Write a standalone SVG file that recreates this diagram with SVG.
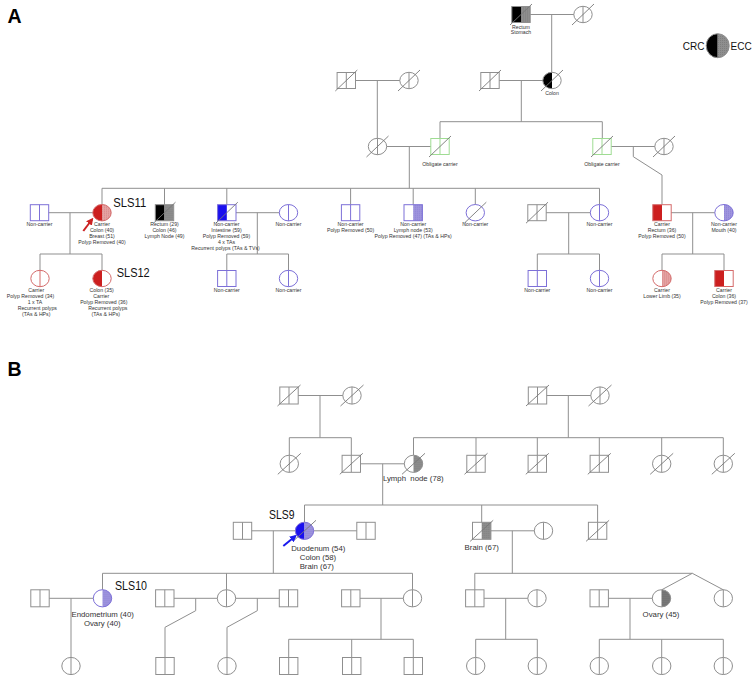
<svg xmlns="http://www.w3.org/2000/svg" width="756" height="675" viewBox="0 0 756 675">
<style>
.ln{fill:none;stroke:#8f8f8f;stroke-width:1}
.g{fill:none;stroke:#8f8f8f;stroke-width:1}
.p{fill:none;stroke:#7d70d8;stroke-width:1}
.r{fill:none;stroke:#d46a6a;stroke-width:1}
.n{fill:none;stroke:#9fdc93;stroke-width:1}
.s{fill:none;stroke:#777;stroke-width:0.9}
.t{font-family:"Liberation Sans",Arial,sans-serif;font-size:5.2px;fill:#333;text-anchor:middle}
.tb{font-family:"Liberation Sans",Arial,sans-serif;font-size:7.8px;fill:#333;text-anchor:middle}
.sls{font-family:"Liberation Sans",Arial,sans-serif;font-size:13px;fill:#111}
.pl{font-family:"Liberation Sans",Arial,sans-serif;font-size:19.5px;font-weight:bold;fill:#000}
.lg{font-family:"Liberation Sans",Arial,sans-serif;font-size:10px;fill:#111}
</style>
<defs>
<pattern id="hG" width="2" height="2" patternUnits="userSpaceOnUse"><rect width="2" height="2" fill="#8e8e8e"/><rect width="1" height="1" fill="#7e7e7e"/></pattern>
<pattern id="hGd" width="2" height="2" patternUnits="userSpaceOnUse"><rect width="2" height="2" fill="#7a7a7a"/><rect width="1" height="1" fill="#666"/></pattern>
<pattern id="hR" width="2" height="2" patternUnits="userSpaceOnUse"><rect width="2" height="2" fill="#e4a2a2"/><rect width="1" height="1" fill="#d88888"/></pattern>
<pattern id="hP" width="2" height="2" patternUnits="userSpaceOnUse"><rect width="2" height="2" fill="#9f95de"/><rect width="1" height="1" fill="#8b80d4"/></pattern>
<rect id="sA" x="-9.2" y="-8" width="18.4" height="16"/>
<rect id="sAL" x="-9.2" y="-8" width="9.2" height="16"/>
<rect id="sAR" x="0" y="-8" width="9.2" height="16"/>
<path id="vsA" d="M0,-8V8"/>
<ellipse id="cA" rx="9.2" ry="8.2"/>
<path id="cAL" d="M0,-8.2A9.2,8.2 0 0 0 0,8.2Z"/>
<path id="cAR" d="M0,-8.2A9.2,8.2 0 0 1 0,8.2Z"/>
<path id="vcA" d="M0,-8.2V8.2"/>
<path id="slA" d="M-11,10.5L11,-10.5"/>
<rect id="sB" x="-9.2" y="-8.5" width="18.4" height="17"/>
<rect id="sBR" x="0" y="-8.5" width="9.2" height="17"/>
<path id="vsB" d="M0,-8.5V8.5"/>
<ellipse id="cB" rx="9.2" ry="8.6"/>
<path id="cBL" d="M0,-8.6A9.2,8.6 0 0 0 0,8.6Z"/>
<path id="cBR" d="M0,-8.6A9.2,8.6 0 0 1 0,8.6Z"/>
<path id="vcB" d="M0,-8.6V8.6"/>
<path id="slB" d="M-11.5,10.5L11.5,-10.5"/>
<marker id="arR" viewBox="0 0 10 10" refX="7" refY="5" markerWidth="3.6" markerHeight="3.6" orient="auto"><path d="M0,0L10,5L0,10Z" fill="#cc2222"/></marker>
<marker id="arB" viewBox="0 0 10 10" refX="7" refY="5" markerWidth="3.6" markerHeight="3.6" orient="auto"><path d="M0,0L10,5L0,10Z" fill="#1a1aee"/></marker>
</defs>
<rect width="756" height="675" fill="#fff"/>
<text class="pl" x="7.5" y="22.5">A</text>
<text class="pl" x="7.5" y="375.5">B</text>

<g id="connectors">
<path class="ln" d="M530.2,14.5H573.8M551.7,14.5V72.3M355.5,80.5H399.8M377.3,80.5V138.3M499.2,80.5H542.8M521.3,80.5V121.7M440,121.7H602.3M440,121.7V138.5M602.3,121.7V138.5M386.7,146.5H430.8M409.3,146.5V188.3M611.2,146.5H654.8M633.3,146.5V156.7L662,175V204.7"/>
<path class="ln" d="M102,188.3H599.5M102,188.3V204.5M164.5,188.3V204.7M226.8,188.3V204.7M350.6,188.3V204.7M413.2,188.3V204.7M475.3,188.3V204.5M599.5,188.3V204.5"/>
<path class="ln" d="M48.7,212.7H92.8M70,212.7V254M40,254H102M40,254V270.3M102,254V270.3M236,212.7H279.3M257.3,212.7V254M226.8,254H288.5M226.8,254V270.5M288.5,254V270.3M546.2,212.7H590.3M568.7,212.7V254M537.3,254H599.5M537.3,254V270.5M599.5,254V270.3M671.2,212.7H714.8M692.7,212.7V254M662,254H724M662,254V270.3M724,254V270.5"/>
<path class="ln" d="M298.2,395.5H342.8M320,395.5V437.7M289.3,437.7H351.3M289.3,437.7V455.2M351.3,437.7V455.3M546.7,395.5H590.8M568.3,395.5V437.7M413.5,437.7H723.3M413.5,437.7V455.2M476,437.7V455.3M537.3,437.7V455.3M599.3,437.7V455.3M661.7,437.7V455.2M723.3,437.7V455.2"/>
<path class="ln" d="M360.5,463.8H404.3M382.7,463.8V505M304.5,505H597.6M304.5,505V522.2M481.7,505V522.3M597.6,505V522.3M251.7,530.8H295.3M313.7,530.8H356.8M273.3,530.8V573.3M490.9,530.8H534.3M512.3,530.8V573.3"/>
<path class="ln" d="M102.5,573.3H412.5M102.5,573.3V589.7M226.5,573.3V589.7M412.5,573.3V589.7M49.2,598.3H93.3M71,598.3V657.4M174,598.3H217.3M195.7,598.3V610.7L165,627.3V657.5M235.7,598.3H279.3M257.3,598.3V610.7L227,627.3V657.4M360,598.3H403.3M381,598.3V639.3M288.7,639.3H413.3M288.7,639.3V657.5M351.7,639.3V657.5M413.3,639.3V657.5"/>
<path class="ln" d="M474.8,573.3H692.3M474.8,573.3V589.8M692.3,573.3L661.7,589.8M692.3,573.3L723.3,589.8M484,598.3H527.8M505.7,598.3V639.3M475.7,639.3H537.3M475.7,639.3V657.4M537.3,639.3V657.4M608.4,598.3H652.3M630,598.3V639.3M599.3,639.3H723.3M599.3,639.3V657.4M661.7,639.3V657.4M723.3,639.3V657.4"/>
</g>

<!-- Panel A -->
<g id="A-I1">
<use href="#sAL" x="521" y="14.5" fill="#000"/><use href="#sAR" x="521" y="14.5" fill="url(#hG)"/>
<use href="#sA" x="521" y="14.5" class="g"/><use href="#slA" x="521" y="14.5" class="s"/>
<text class="t" x="521" y="28.5">Rectum</text><text class="t" x="521" y="34.3">Stomach</text>
</g>
<g id="A-I2"><use href="#cA" x="583" y="14.5" class="g"/><use href="#vcA" x="583" y="14.5" class="g"/><use href="#slA" x="583" y="14.5" class="s"/></g>
<g id="A-II1"><use href="#sA" x="346.3" y="80.5" class="g"/><use href="#vsA" x="346.3" y="80.5" class="g"/><use href="#slA" x="346.3" y="80.5" class="s"/></g>
<g id="A-II2"><use href="#cA" x="409" y="80.5" class="g"/><use href="#vcA" x="409" y="80.5" class="g"/><use href="#slA" x="409" y="80.5" class="s"/></g>
<g id="A-II3"><use href="#sA" x="490" y="80.5" class="g"/><use href="#vsA" x="490" y="80.5" class="g"/><use href="#slA" x="490" y="80.5" class="s"/></g>
<g id="A-II4"><use href="#cAL" x="552" y="80.5" fill="#000"/><use href="#cA" x="552" y="80.5" class="g"/><use href="#slA" x="552" y="80.5" class="s"/>
<text class="t" x="552" y="95">Colon</text></g>
<g id="A-III1"><use href="#cA" x="377.5" y="146.5" class="g"/><use href="#vcA" x="377.5" y="146.5" class="g"/><use href="#slA" x="377.5" y="146.5" class="s"/></g>
<g id="A-III2"><use href="#sA" x="440" y="146.5" class="n"/><use href="#vsA" x="440" y="146.5" class="n"/><use href="#slA" x="440" y="146.5" class="s"/>
<text class="t" x="440" y="166">Obligate carrier</text></g>
<g id="A-III3"><use href="#sA" x="602" y="146.5" class="n"/><use href="#vsA" x="602" y="146.5" class="n"/><use href="#slA" x="602" y="146.5" class="s"/>
<text class="t" x="602" y="166">Obligate carrier</text></g>
<g id="A-III4"><use href="#cA" x="664" y="146.5" class="g"/><use href="#vcA" x="664" y="146.5" class="g"/><use href="#slA" x="664" y="146.5" class="s"/></g>

<g id="A-IV1"><use href="#sA" x="39.5" y="212.7" class="p"/><use href="#vsA" x="39.5" y="212.7" class="p"/>
<text class="t" x="39.5" y="226">Non-carrier</text></g>
<g id="A-IV2-SLS11"><use href="#cAL" x="102" y="212.7" fill="#cc1f1f"/><use href="#cAR" x="102" y="212.7" fill="url(#hR)"/><use href="#cA" x="102" y="212.7" class="r"/>
<text class="sls" x="113.3" y="206.7" textLength="33" lengthAdjust="spacingAndGlyphs">SLS11</text>
<path d="M83.3,231L92,219.5" stroke="#cc2222" stroke-width="2" marker-end="url(#arR)"/>
<text class="t" x="102" y="226">Carrier</text><text class="t" x="102" y="232.1">Colon (40)</text><text class="t" x="102" y="238.2">Breast (51)</text><text class="t" x="102" y="244.3">Polyp Removed (40)</text></g>
<g id="A-IV3"><use href="#sAL" x="164.5" y="212.7" fill="#000"/><use href="#sAR" x="164.5" y="212.7" fill="url(#hG)"/><use href="#sA" x="164.5" y="212.7" class="g"/><use href="#slA" x="164.5" y="212.7" class="s"/>
<text class="t" x="164.5" y="226">Rectum (29)</text><text class="t" x="164.5" y="232.1">Colon (46)</text><text class="t" x="164.5" y="238.2">Lymph Node (49)</text></g>
<g id="A-IV4"><use href="#sAL" x="226.8" y="212.7" fill="#1a10ee"/><use href="#sA" x="226.8" y="212.7" class="p"/><use href="#slA" x="226.8" y="212.7" class="s"/>
<text class="t" x="226.5" y="226">Non-carrier</text><text class="t" x="226.5" y="232.1">Intestine (59)</text><text class="t" x="226.5" y="238.2">Polyp Removed (59)</text><text class="t" x="226.5" y="244.3">4 x TAs</text><text class="t" x="225.5" y="250.4">Recurrent polyps (TAs &amp; TVs)</text></g>
<g id="A-IV5"><use href="#cA" x="288.5" y="212.7" class="p"/><use href="#vcA" x="288.5" y="212.7" class="p"/>
<text class="t" x="288.5" y="226">Non-carrier</text></g>
<g id="A-IV6"><use href="#sA" x="350.6" y="212.7" class="p"/><use href="#vsA" x="350.6" y="212.7" class="p"/>
<text class="t" x="350.6" y="226">Non-carrier</text><text class="t" x="350.6" y="232.1">Polyp Removed (50)</text></g>
<g id="A-IV7"><use href="#sAR" x="413.2" y="212.7" fill="url(#hP)"/><use href="#sA" x="413.2" y="212.7" class="p"/>
<text class="t" x="413.2" y="226">Non-carrier</text><text class="t" x="413.2" y="232.1">Lymph node (53)</text><text class="t" x="413.2" y="238.2">Polyp Removed (47) (TAs &amp; HPs)</text></g>
<g id="A-IV8"><use href="#cA" x="475.3" y="212.7" class="p"/><use href="#slA" x="475.3" y="212.7" class="s"/>
<text class="t" x="475.3" y="226">Non-carrier</text></g>
<g id="A-IV9"><use href="#sA" x="537" y="212.7" class="g"/><use href="#vsA" x="537" y="212.7" class="g"/><use href="#slA" x="537" y="212.7" class="s"/></g>
<g id="A-IV10"><use href="#cA" x="599.5" y="212.7" class="p"/><use href="#vcA" x="599.5" y="212.7" class="p"/>
<text class="t" x="599.5" y="226">Non-carrier</text></g>
<g id="A-IV11"><use href="#sAL" x="662" y="212.7" fill="#cc1f1f"/><use href="#sA" x="662" y="212.7" class="r"/>
<text class="t" x="662" y="226">Carrier</text><text class="t" x="662" y="232.1">Rectum (36)</text><text class="t" x="662" y="238.2">Polyp Removed (50)</text></g>
<g id="A-IV12"><use href="#cAR" x="724" y="212.7" fill="url(#hP)"/><use href="#cA" x="724" y="212.7" class="p"/>
<text class="t" x="724" y="226">Non-carrier</text><text class="t" x="724" y="232.1">Mouth (40)</text></g>

<g id="A-V1"><use href="#cA" x="40" y="278.5" class="r"/><use href="#vcA" x="40" y="278.5" class="r"/>
<text class="t" x="36.2" y="292">Carrier</text><text class="t" x="30.5" y="298.1">Polyp Removed (34)</text><text class="t" x="35" y="304.2">1 x TA</text><text class="t" x="37.3" y="310.3">Recurrent polyps</text><text class="t" x="36.2" y="316.4">(TAs &amp; HPs)</text></g>
<g id="A-V2-SLS12"><use href="#cAL" x="102" y="278.5" fill="#cc1f1f"/><use href="#cA" x="102" y="278.5" class="r"/>
<text class="sls" x="116.7" y="277.3" textLength="33" lengthAdjust="spacingAndGlyphs">SLS12</text>
<text class="t" x="101.7" y="292">Colon (35)</text><text class="t" x="101.3" y="298.1">Carrier</text><text class="t" x="103.8" y="304.2">Polyp Removed (36)</text><text class="t" x="107.8" y="310.3">Recurrent polyps</text><text class="t" x="105.8" y="316.4">(TAs &amp; HPs)</text></g>
<g id="A-V3"><use href="#sA" x="226.8" y="278.5" class="p"/><use href="#vsA" x="226.8" y="278.5" class="p"/><text class="t" x="226.8" y="292.3">Non-carrier</text></g>
<g id="A-V4"><use href="#cA" x="288.5" y="278.5" class="p"/><use href="#vcA" x="288.5" y="278.5" class="p"/><text class="t" x="288.5" y="292.3">Non-carrier</text></g>
<g id="A-V5"><use href="#sA" x="537.3" y="278.5" class="p"/><use href="#vsA" x="537.3" y="278.5" class="p"/><text class="t" x="537.3" y="292.3">Non-carrier</text></g>
<g id="A-V6"><use href="#cA" x="599.5" y="278.5" class="p"/><use href="#vcA" x="599.5" y="278.5" class="p"/><text class="t" x="599.5" y="292.3">Non-carrier</text></g>
<g id="A-V7"><use href="#cAR" x="662" y="278.5" fill="url(#hR)"/><use href="#cA" x="662" y="278.5" class="r"/>
<text class="t" x="662" y="292">Carrier</text><text class="t" x="662" y="298.1">Lower Limb (35)</text></g>
<g id="A-V8"><use href="#sAL" x="724" y="278.5" fill="#cc1f1f"/><use href="#sA" x="724" y="278.5" class="r"/>
<text class="t" x="724" y="292">Carrier</text><text class="t" x="724" y="298.1">Colon (36)</text><text class="t" x="724" y="304.2">Polyp Removed (37)</text></g>

<g id="legend">
<path d="M717.7,33.7A11.5,12 0 0 0 717.7,57.7Z" fill="#000"/>
<path d="M717.7,33.7A11.5,12 0 0 1 717.7,57.7Z" fill="url(#hG)"/>
<ellipse cx="717.7" cy="45.7" rx="11.5" ry="12" class="g"/>
<text class="lg" x="704.5" y="50" text-anchor="end">CRC</text>
<text class="lg" x="730.5" y="50">ECC</text>
</g>

<!-- Panel B -->
<g id="B-I1"><use href="#sB" x="289" y="395.5" class="g"/><use href="#vsB" x="289" y="395.5" class="g"/><use href="#slB" x="289" y="395.5" class="s"/></g>
<g id="B-I2"><use href="#cB" x="352" y="395.5" class="g"/><use href="#vcB" x="352" y="395.5" class="g"/><use href="#slB" x="352" y="395.5" class="s"/></g>
<g id="B-I3"><use href="#sB" x="537.5" y="395.5" class="g"/><use href="#vsB" x="537.5" y="395.5" class="g"/><use href="#slB" x="537.5" y="395.5" class="s"/></g>
<g id="B-I4"><use href="#cB" x="600" y="395.5" class="g"/><use href="#vcB" x="600" y="395.5" class="g"/><use href="#slB" x="600" y="395.5" class="s"/></g>

<g id="B-II1"><use href="#cB" x="289.3" y="463.8" class="g"/><use href="#vcB" x="289.3" y="463.8" class="g"/><use href="#slB" x="289.3" y="463.8" class="s"/></g>
<g id="B-II2"><use href="#sB" x="351.3" y="463.8" class="g"/><use href="#vsB" x="351.3" y="463.8" class="g"/><use href="#slB" x="351.3" y="463.8" class="s"/></g>
<g id="B-II3"><use href="#cBR" x="413.5" y="463.8" fill="url(#hG)"/><use href="#cB" x="413.5" y="463.8" class="g"/><use href="#slB" x="413.5" y="463.8" class="s"/>
<text class="tb" x="413.3" y="480.7" xml:space="preserve">Lymph  node (78)</text></g>
<g id="B-II4"><use href="#sB" x="476" y="463.8" class="g"/><use href="#vsB" x="476" y="463.8" class="g"/><use href="#slB" x="476" y="463.8" class="s"/></g>
<g id="B-II5"><use href="#sB" x="537.3" y="463.8" class="g"/><use href="#vsB" x="537.3" y="463.8" class="g"/><use href="#slB" x="537.3" y="463.8" class="s"/></g>
<g id="B-II6"><use href="#sB" x="599.3" y="463.8" class="g"/><use href="#vsB" x="599.3" y="463.8" class="g"/><use href="#slB" x="599.3" y="463.8" class="s"/></g>
<g id="B-II7"><use href="#cB" x="661.7" y="463.8" class="g"/><use href="#vcB" x="661.7" y="463.8" class="g"/><use href="#slB" x="661.7" y="463.8" class="s"/></g>
<g id="B-II8"><use href="#cB" x="723.3" y="463.8" class="g"/><use href="#vcB" x="723.3" y="463.8" class="g"/><use href="#slB" x="723.3" y="463.8" class="s"/></g>

<g id="B-III1"><use href="#sB" x="242.5" y="530.8" class="g"/><use href="#vsB" x="242.5" y="530.8" class="g"/></g>
<g id="B-III2-SLS9"><use href="#cBL" x="304.5" y="530.8" fill="#1a10ee"/><use href="#cBR" x="304.5" y="530.8" fill="url(#hP)"/><use href="#cB" x="304.5" y="530.8" class="p"/><use href="#slB" x="304.5" y="530.8" class="s"/>
<text class="sls" x="269" y="519" textLength="25.5" lengthAdjust="spacingAndGlyphs">SLS9</text>
<path d="M283.3,546L295.2,536.2" stroke="#1a1aee" stroke-width="2" marker-end="url(#arB)"/>
<text class="tb" x="318.3" y="551">Duodenum (54)</text><text class="tb" x="318" y="560">Colon (58)</text><text class="tb" x="316.8" y="569">Brain (67)</text></g>
<g id="B-III3"><use href="#sB" x="366" y="530.8" class="g"/><use href="#vsB" x="366" y="530.8" class="g"/></g>
<g id="B-III4"><use href="#sBR" x="481.7" y="530.8" fill="url(#hG)"/><use href="#sB" x="481.7" y="530.8" class="g"/><use href="#slB" x="481.7" y="530.8" class="s"/>
<text class="tb" x="481.7" y="549.5">Brain (67)</text></g>
<g id="B-III5"><use href="#cB" x="543.5" y="530.8" class="g"/><use href="#vcB" x="543.5" y="530.8" class="g"/></g>
<g id="B-III6"><use href="#sB" x="597.6" y="530.8" class="g"/><use href="#vsB" x="597.6" y="530.8" class="g"/><use href="#slB" x="597.6" y="530.8" class="s"/></g>

<g id="B-IV1"><use href="#sB" x="40" y="598.3" class="g"/><use href="#vsB" x="40" y="598.3" class="g"/></g>
<g id="B-IV2-SLS10"><use href="#cBR" x="102.5" y="598.3" fill="url(#hP)"/><use href="#cB" x="102.5" y="598.3" class="p"/>
<text class="sls" x="115" y="590" textLength="32" lengthAdjust="spacingAndGlyphs">SLS10</text>
<text class="tb" x="102.7" y="616.5">Endometrium (40)</text><text class="tb" x="102.3" y="625.5">Ovary (40)</text></g>
<g id="B-IV3"><use href="#sB" x="164.8" y="598.3" class="g"/><use href="#vsB" x="164.8" y="598.3" class="g"/></g>
<g id="B-IV4"><use href="#cB" x="226.5" y="598.3" class="g"/><use href="#vcB" x="226.5" y="598.3" class="g"/></g>
<g id="B-IV5"><use href="#sB" x="288.5" y="598.3" class="g"/><use href="#vsB" x="288.5" y="598.3" class="g"/></g>
<g id="B-IV6"><use href="#sB" x="350.8" y="598.3" class="g"/><use href="#vsB" x="350.8" y="598.3" class="g"/></g>
<g id="B-IV7"><use href="#cB" x="412.5" y="598.3" class="g"/><use href="#vcB" x="412.5" y="598.3" class="g"/></g>
<g id="B-IV8"><use href="#sB" x="474.8" y="598.3" class="g"/><use href="#vsB" x="474.8" y="598.3" class="g"/></g>
<g id="B-IV9"><use href="#cB" x="537" y="598.3" class="g"/><use href="#vcB" x="537" y="598.3" class="g"/></g>
<g id="B-IV10"><use href="#sB" x="599.2" y="598.3" class="g"/><use href="#vsB" x="599.2" y="598.3" class="g"/></g>
<g id="B-IV11"><use href="#cBR" x="661.5" y="598.3" fill="url(#hGd)"/><use href="#cB" x="661.5" y="598.3" class="g"/>
<text class="tb" x="661" y="616.5">Ovary (45)</text></g>
<g id="B-IV12"><use href="#cB" x="723.3" y="598.3" class="g"/><use href="#vcB" x="723.3" y="598.3" class="g"/></g>

<g id="B-V1"><use href="#cB" x="71" y="666" class="g"/><use href="#vcB" x="71" y="666" class="g"/></g>
<g id="B-V2"><use href="#sB" x="165" y="666" class="g"/><use href="#vsB" x="165" y="666" class="g"/></g>
<g id="B-V3"><use href="#cB" x="227" y="666" class="g"/><use href="#vcB" x="227" y="666" class="g"/></g>
<g id="B-V4"><use href="#sB" x="288.7" y="666" class="g"/><use href="#vsB" x="288.7" y="666" class="g"/></g>
<g id="B-V5"><use href="#sB" x="351.7" y="666" class="g"/><use href="#vsB" x="351.7" y="666" class="g"/></g>
<g id="B-V6"><use href="#sB" x="413.3" y="666" class="g"/><use href="#vsB" x="413.3" y="666" class="g"/></g>
<g id="B-V7"><use href="#cB" x="475.7" y="666" class="g"/><use href="#vcB" x="475.7" y="666" class="g"/></g>
<g id="B-V8"><use href="#cB" x="537.3" y="666" class="g"/><use href="#vcB" x="537.3" y="666" class="g"/></g>
<g id="B-V9"><use href="#cB" x="599.3" y="666" class="g"/><use href="#vcB" x="599.3" y="666" class="g"/></g>
<g id="B-V10"><use href="#cB" x="661.7" y="666" class="g"/><use href="#vcB" x="661.7" y="666" class="g"/></g>
<g id="B-V11"><use href="#cB" x="723.3" y="666" class="g"/><use href="#vcB" x="723.3" y="666" class="g"/></g>
</svg>
